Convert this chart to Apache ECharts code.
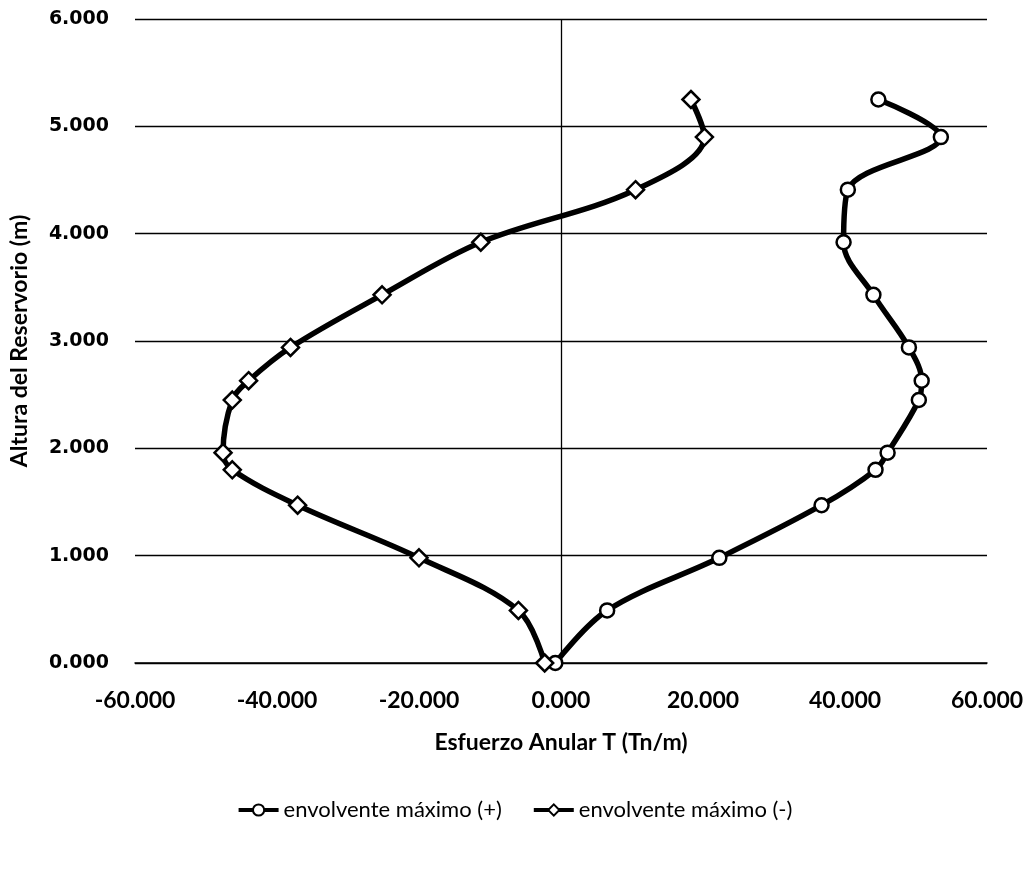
<!DOCTYPE html>
<html>
<head>
<meta charset="utf-8">
<script src="https://cdn.jsdelivr.net/npm/echarts@6/dist/echarts.min.js"></script>
<style>
  html, body { margin: 0; padding: 0; background: #fff; }
  #chart { width: 1029px; height: 882px; }
</style>
</head>
<body>
<div id="chart"></div>
<script>
// alturas (m) y envolventes (Tn/m)
var alturas = [0, 0.49, 0.98, 1.47, 1.80, 1.96, 2.45, 2.63, 2.94, 3.43, 3.92, 4.41, 4.90, 5.25];
var envMaxPos = [-0.8, 6.5, 22.3, 36.7, 44.3, 46.0, 50.4, 50.8, 49.0, 44.0, 39.8, 40.4, 53.5, 44.7];
var envMaxNeg = [-2.3, -6.0, -20.0, -37.1, -46.3, -47.6, -46.3, -44.0, -38.1, -25.2, -11.3, 10.5, 20.2, 18.3];
var nombres = ['envolvente máximo (+)', 'envolvente máximo (-)'];

function pares(xs) {
  return xs.map(function (v, i) { return [v, alturas[i]]; });
}

var dom = document.getElementById('chart');
var myChart = echarts.init(dom);
var option = {
  animation: false,
  backgroundColor: '#fff',
  grid: { left: 132, right: 42, top: 19, bottom: 219, containLabel: false },
  legend: {
    bottom: 56,
    left: 'center',
    itemWidth: 40,
    itemHeight: 14,
    itemGap: 30,
    lineStyle: { width: 4 },
    textStyle: { fontFamily: 'Lato', fontSize: 22, color: '#000' },
    data: nombres
  },
  xAxis: {
    type: 'value',
    min: -60, max: 60, interval: 20,
    name: 'Esfuerzo Anular T (Tn/m)',
    nameLocation: 'middle',
    nameGap: 68,
    nameTextStyle: { fontFamily: 'Lato', fontWeight: 'bold', fontSize: 23, color: '#000' },
    axisLine: { show: true, lineStyle: { color: '#000', width: 1.5 } },
    axisTick: { show: false },
    splitLine: { show: false },
    axisLabel: {
      margin: 26,
      fontFamily: 'Lato', fontWeight: 'bold', fontSize: 23, color: '#000',
      formatter: function (v) { return v.toFixed(3); }
    }
  },
  yAxis: {
    type: 'value',
    min: 0, max: 6, interval: 1,
    name: 'Altura del Reservorio (m)',
    nameLocation: 'middle',
    nameGap: 104,
    nameTextStyle: { fontFamily: 'Lato', fontWeight: 'bold', fontSize: 23, color: '#000' },
    axisLine: { show: false },
    axisTick: { show: false },
    splitLine: { show: true, lineStyle: { color: '#000', width: 1.3 } },
    axisLabel: {
      margin: 26,
      fontFamily: 'DejaVu Sans', fontWeight: 'bold', fontSize: 19, color: '#000',
      formatter: function (v) { return v.toFixed(3); }
    }
  },
  series: [
    {
      name: nombres[0],
      type: 'line',
      smooth: 0.35,
      data: pares(envMaxPos),
      symbol: 'circle',
      symbolSize: 14,
      lineStyle: { color: '#000', width: 5.5 },
      itemStyle: { color: '#fff', borderColor: '#000', borderWidth: 2.5 },
      z: 3,
      markLine: {
        silent: true,
        symbol: 'none',
        label: { show: false },
        lineStyle: { color: '#000', width: 1.3, type: 'solid' },
        data: [{ xAxis: 0 }]
      }
    },
    {
      name: nombres[1],
      type: 'line',
      smooth: 0.35,
      data: pares(envMaxNeg),
      symbol: 'path://M0,-1L1,0L0,1L-1,0Z',
      symbolSize: 17,
      lineStyle: { color: '#000', width: 5.5 },
      itemStyle: { color: '#fff', borderColor: '#000', borderWidth: 2.5 },
      z: 3
    }
  ]
};
myChart.setOption(option, true);
</script>
</body>
</html>
